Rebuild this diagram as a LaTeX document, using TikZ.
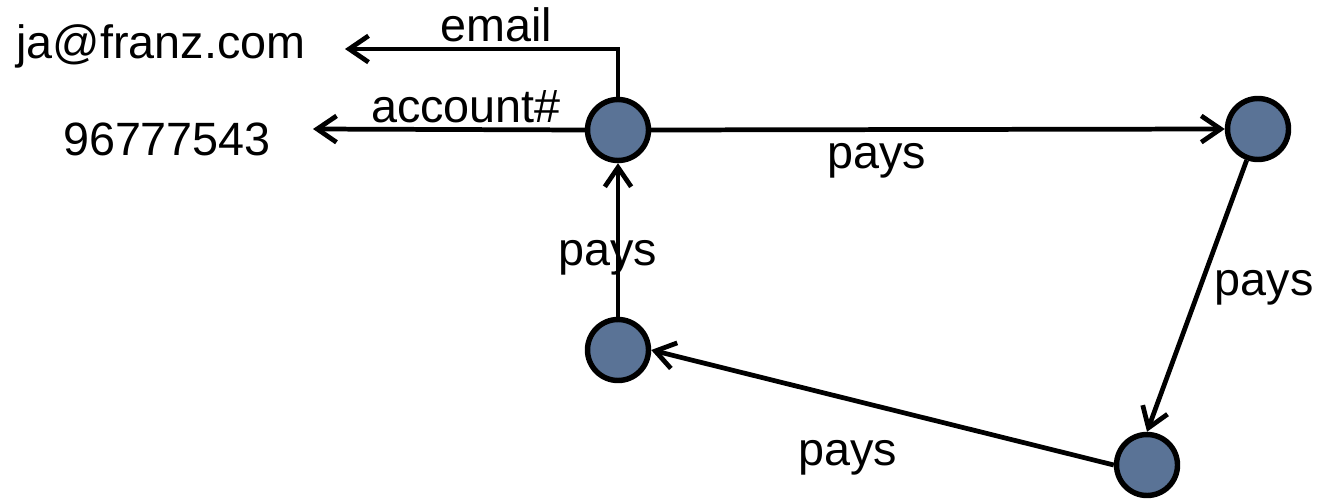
\documentclass[tikz,border=0pt]{standalone}
\usepackage{fontspec}
\setmainfont{Liberation Sans}
\usetikzlibrary{arrows.meta, positioning, calc}
\definecolor{nodeblue}{HTML}{5A7396}

\begin{document}
\begin{tikzpicture}[x=0.02cm, y=-0.02cm,
    vertex/.style={draw=black, circle, line width=3.1pt, fill=nodeblue, minimum size=1.22cm, inner sep=0pt},
    link/.style={line width=2.7pt, -{Straight Barb[length=11pt, width=15pt, line width=2.7pt]}},
    lbl/.style={font=\fontsize{26.6}{30}\selectfont, anchor=base, inner sep=0pt}]
    \useasboundingbox (0,0) rectangle (1317,500);
    % Accounts
    \node[vertex] (a) at (618, 130) {};
    \node[vertex] (b) at (1258, 129) {};
    \node[vertex] (c) at (618, 350) {};
    \node[vertex] (d) at (1147, 465) {};

    % Literal values
    \node[lbl] (mailval) at (161, 59) {ja@franz.com};
    \node[lbl] (acctval) at (167, 155) {96777543};
    \coordinate (mailend) at (345, 49);
    \coordinate (acctend) at (313, 129);

    % Properties
    \draw[link] (a.north) |- (mailend);
    \draw[link] (a.west) -- (acctend);
    \node[lbl] (mail) at (496, 42) {email};
    \node[lbl] (acct) at (466, 122) {account\#};

    % Payment cycle
    \draw[link] (a.east) -- (b.west);
    \draw[link] (b.-110) -- (d.north);
    \draw[link] (d.west) -- (c.east);
    \draw[link] (c.north) -- (a.south);
    \node[lbl] (p1) at (877, 168) {pays};
    \node[lbl] (p2) at (1264, 295) {pays};
    \node[lbl] (p3) at (848, 465) {pays};
    \node[lbl] (p4) at (608, 265) {pays};
  \end{tikzpicture}
\end{document}
